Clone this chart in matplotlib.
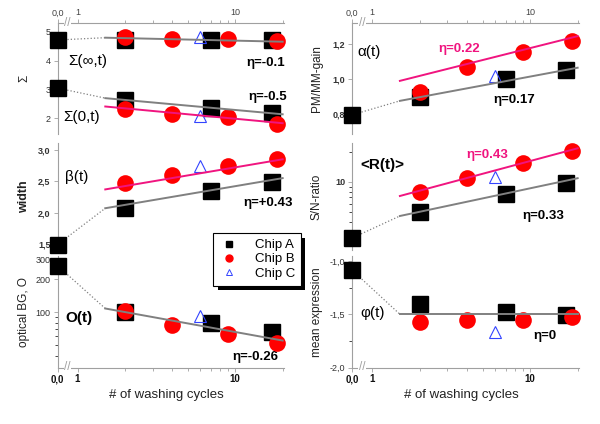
import numpy as np
import matplotlib
matplotlib.use('Agg')
import matplotlib.pyplot as plt
import matplotlib.transforms as mtrans
from matplotlib.lines import Line2D
from matplotlib.patches import Rectangle

plt.rcParams['font.family'] = ['Liberation Sans', 'DejaVu Sans']

# ---- data ----
cycles_a = [0, 2, 7, 17]
cycles_b = [2, 4, 9, 18.5]
cycles_c = [6]
fit_x = [1.5, 20]

sig_inf_a = [4.72, 4.72, 4.72, 4.72]
sig_inf_b = [4.83, 4.75, 4.75, 4.69]
sig_inf_c = [4.84]
sig_inf_fit = [4.80, 4.66]
sig0_a = [3.05, 2.63, 2.35, 2.20]
sig0_b = [2.31, 2.15, 2.03, 1.80]
sig0_c = [2.08]
sig0_fit_a = [2.70, 2.14]
sig0_fit_b = [2.41, 1.83]

beta_a = [1.49, 2.08, 2.35, 2.49]
beta_b = [2.47, 2.60, 2.74, 2.85]
beta_c = [2.74]
beta_fit_a = [2.07, 2.55]
beta_fit_b = [2.37, 2.85]

bg_a = [266, 100, 79, 66]
bg_b = [103, 76, 63, 52]
bg_c = [92]
bg_fit = [108, 55]

alpha_a = [0.796, 0.90, 1.00, 1.05]
alpha_b = [0.924, 1.07, 1.156, 1.22]
alpha_c = [1.02]
alpha_fit_a = [0.876, 1.065]
alpha_fit_b = [0.99, 1.245]

snr_a = [2.75, 5.04, 7.53, 9.7]
snr_b = [8.0, 11.0, 15.4, 20.6]
snr_c = [11.3]
snr_fit_a = [4.57, 10.9]
snr_fit_b = [7.24, 21.7]

phi_a = [-1.085, -1.40, -1.48, -1.51]
phi_b = [-1.57, -1.55, -1.556, -1.525]
phi_c = [-1.667]
phi_fit = [-1.5, -1.5]

x_ticks = [0, 1, 10]
x_ticklabels = ['0,0', '1', '10']

GRAY = '#808080'
PINK = '#f0147f'
AXC = '#a0a0a0'
W, H = 600, 424


# broken log axis: 0 sits a short gap left of 1
def fwd(x):
    x = np.asarray(x, dtype=float)
    return np.where(x >= 1, np.log10(np.clip(x, 1, None)), (x - 1) * 0.127)


def inv(u):
    u = np.asarray(u, dtype=float)
    return np.where(u >= 0, 10 ** np.clip(u, 0, 5), 1 + u / 0.127)


fig = plt.figure(figsize=(6, 4.24), dpi=100)

cols = [(57.5, 284), (352, 579)]
rows = [(23, 134), (143, 250), (256, 367.5)]


def panel(col, row):
    l, r = cols[col]
    t, b = rows[row]
    ax = fig.add_axes([l / W, 1 - b / H, (r - l) / W, (b - t) / H])
    ax.set_xscale('function', functions=(fwd, inv))
    ax.set_xlim(0, 20.4)
    for s in ['right', 'top', 'bottom']:
        ax.spines[s].set_visible(False)
    ax.spines['left'].set_color(AXC)
    ax.tick_params(axis='y', colors=AXC, labelcolor='#333333', labelsize=6.5,
                   length=3, width=0.6, direction='out', pad=2)
    ax.tick_params(axis='y', which='minor', length=2, width=0.5)
    ax.set_xticks(x_ticks)
    ax.set_xticks([2, 3, 4, 5, 6, 7, 8, 9, 20], minor=True)
    trans = mtrans.blended_transform_factory(ax.transData, ax.transAxes)
    if row == 0:
        ax.spines['top'].set_visible(True)
        ax.spines['top'].set_color(AXC)
        ax.xaxis.tick_top()
        ax.set_xticklabels(x_ticklabels)
        ax.tick_params(axis='x', which='both', colors=AXC, labelcolor='#444444',
                       labelsize=6.5, length=3, width=0.6, pad=1)
        ax.tick_params(axis='x', which='minor', length=2)
        ax.text(0.5, 1, '//', transform=trans, ha='center', va='center',
                fontsize=8.5, color=AXC, bbox=dict(fc='white', ec='none', pad=0.3))
    elif row == 2:
        ax.spines['bottom'].set_visible(True)
        ax.spines['bottom'].set_color(AXC)
        ax.set_xticklabels(x_ticklabels, fontweight='bold')
        ax.tick_params(axis='x', which='both', colors=AXC, labelcolor='#111111',
                       labelsize=7, length=3, width=0.6, pad=2)
        ax.tick_params(axis='x', which='minor', length=2)
        ax.text(0.5, 0, '//', transform=trans, ha='center', va='center',
                fontsize=8.5, color=AXC, bbox=dict(fc='white', ec='none', pad=0.3))
        ax.set_xlabel('# of washing cycles', fontsize=9.5, color='#222222')
        ax.xaxis.set_label_coords(0.48, -0.19)
    else:
        ax.tick_params(axis='x', which='both', bottom=False, labelbottom=False)
    return ax


def points(ax, a, b, c):
    ax.plot(cycles_a, a, 's', color='black', ms=11.5, zorder=3, clip_on=False)
    ax.plot(cycles_b, b, 'o', color='#ff0000', ms=12, mec='none', zorder=4, clip_on=False)
    ax.plot(cycles_c, c, '^', mfc='none', mec='#3344ff', ms=9, mew=0.8, zorder=5)


def fit(ax, y, color, start=None):
    ax.plot(fit_x, y, '-', color=color, lw=1.4, zorder=6)
    if start is not None:
        ax.plot([0, fit_x[0]], [start, y[0]], ':', color=GRAY, lw=0.9, zorder=2)


def label(ax, x, y, s, ha='left', size=9.5, color='black', weight='bold'):
    ax.text(x, y, s, transform=ax.transAxes, ha=ha, va='center', fontsize=size,
            color=color, fontweight=weight)


def ylab(ax, s, col, weight='normal', size=8.5):
    ax.set_ylabel(s, fontsize=size, fontweight=weight, color='#222222')
    ax.yaxis.set_label_coords(-0.121 if col == 0 else -0.128, 0.5)


# Sigma
ax = panel(0, 0)
points(ax, sig_inf_a, sig_inf_b, sig_inf_c)
points(ax, sig0_a, sig0_b, sig0_c)
fit(ax, sig_inf_fit, GRAY, sig_inf_a[0])
fit(ax, sig0_fit_a, GRAY, sig0_a[0])
fit(ax, sig0_fit_b, PINK)
ax.set_ylim(1.455, 5.31)
ax.set_yticks([2, 3, 4, 5])
ax.set_yticklabels(['2', '3', '4', '5'])
ylab(ax, 'Σ', 0)
label(ax, 0.046, 0.655, 'Σ(∞,t)', size=11, weight='normal')
label(ax, 0.024, 0.15, 'Σ(0,t)', size=11, weight='normal')
label(ax, 1.004, 0.64, 'η=-0.1', ha='right')
label(ax, 1.013, 0.33, 'η=-0.5', ha='right')

# beta
ax = panel(0, 1)
points(ax, beta_a, beta_b, beta_c)
fit(ax, beta_fit_a, GRAY, beta_a[0])
fit(ax, beta_fit_b, PINK)
ax.set_ylim(1.404, 3.11)
ax.set_yticks([1.5, 2.0, 2.5, 3.0])
ax.set_yticklabels(['1,5', '2,0', '2,5', '3,0'], fontweight='bold')
ylab(ax, 'width', 0, weight='bold', size=9)
label(ax, 0.033, 0.682, 'β(t)', size=11, weight='normal')
label(ax, 1.04, 0.439, 'η=+0.43', ha='right')

# optical background
ax = panel(0, 2)
ax.set_yscale('log')
points(ax, bg_a, bg_b, bg_c)
fit(ax, bg_fit, GRAY, bg_a[0])
ax.set_ylim(31.2, 326)
ax.set_yticks([100, 200, 300])
ax.set_yticklabels(['100', '200', '300'])
ax.set_yticks([40, 50, 60, 70, 80, 90], minor=True)
ax.set_yticklabels([], minor=True)
ylab(ax, 'optical BG, O', 0)
label(ax, 0.033, 0.444, 'O(t)', size=11)
label(ax, 0.974, 0.094, 'η=-0.26', ha='right')

# alpha
ax = panel(1, 0)
points(ax, alpha_a, alpha_b, alpha_c)
fit(ax, alpha_fit_a, GRAY, alpha_a[0])
fit(ax, alpha_fit_b, PINK)
ax.set_ylim(0.687, 1.32)
ax.set_yticks([0.8, 1.0, 1.2])
ax.set_yticklabels(['0,8', '1,0', '1,2'], fontweight='bold')
ylab(ax, 'PM/MM-gain', 1)
label(ax, 0.022, 0.739, 'α(t)', size=11, weight='normal')
label(ax, 0.379, 0.766, 'η=0.22', color=PINK)
label(ax, 0.621, 0.306, 'η=0.17')

# S/N ratio
ax = panel(1, 1)
ax.set_yscale('log')
points(ax, snr_a, snr_b, snr_c)
fit(ax, snr_fit_a, GRAY, snr_a[0])
fit(ax, snr_fit_b, PINK)
ax.set_ylim(2.09, 24.5)
ax.set_yticks([10])
ax.set_yticklabels(['10'], fontweight='bold')
ax.set_yticks([3, 4, 5, 6, 7, 8, 9, 20], minor=True)
ax.set_yticklabels([], minor=True)
ylab(ax, 'S/N-ratio', 1)
label(ax, 0.035, 0.794, '<R(t)>', size=11)
label(ax, 0.502, 0.888, 'η=0.43', color=PINK)
label(ax, 0.749, 0.318, 'η=0.33')

# mean expression
ax = panel(1, 2)
points(ax, phi_a, phi_b, phi_c)
fit(ax, phi_fit, GRAY, phi_a[0])
ax.set_ylim(-2.0, -0.953)
ax.set_yticks([-2.0, -1.5, -1.0])
ax.set_yticklabels(['-2,0', '-1,5', '-1,0'])
ax.set_yticks([-1.75, -1.25], minor=True)
ylab(ax, 'mean expression', 1)
label(ax, 0.035, 0.489, 'φ(t)', size=11, weight='normal')
label(ax, 0.797, 0.283, 'η=0')

handles = [
    Line2D([], [], marker='s', color='black', ls='none', ms=4.5),
    Line2D([], [], marker='o', color='#ff0000', ls='none', ms=5),
    Line2D([], [], marker='^', mfc='none', mec='#3344ff', ls='none', ms=5, mew=0.7),
]
leg = fig.legend(handles, ['Chip A', 'Chip B', 'Chip C'], loc='upper left',
                 bbox_to_anchor=(213 / W, 1 - 233 / H), fontsize=9.5,
                 fancybox=False, edgecolor='black', framealpha=1,
                 handletextpad=1.2, borderpad=0.45, labelspacing=0.15,
                 handlelength=1.5, borderaxespad=0)
leg.get_frame().set_linewidth(0.8)
leg.set_zorder(10)

# solid black drop shadow, offset a few pixels down-right
fig.canvas.draw()
bb = leg.get_window_extent().transformed(fig.transFigure.inverted())
fig.patches.append(Rectangle((bb.x0 + 4.5 / W, bb.y0 - 4.5 / H), bb.width, bb.height,
                             transform=fig.transFigure, fc='black', ec='none', zorder=9))

fig.savefig('out.png', dpi=100)
